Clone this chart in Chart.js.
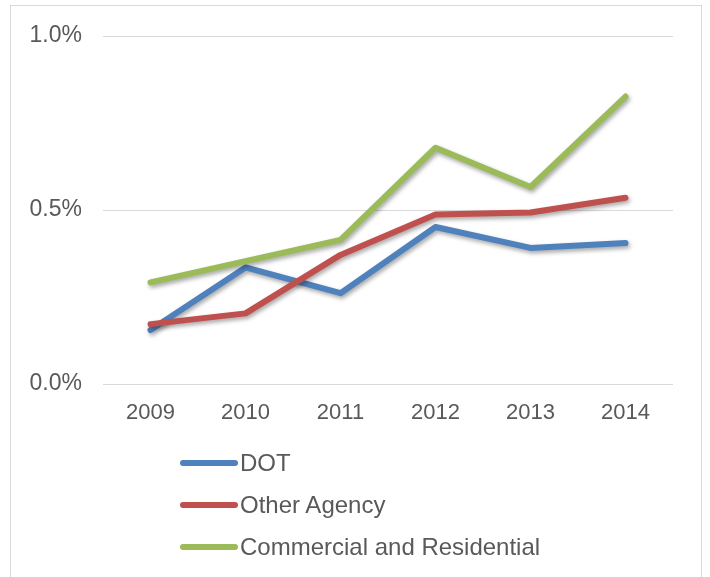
<!DOCTYPE html>
<html>
<head>
<meta charset="utf-8">
<script src="https://cdn.jsdelivr.net/npm/chart.js@4/dist/chart.umd.min.js"></script>
<style>
  html, body { margin: 0; padding: 0; width: 710px; height: 577px; overflow: hidden; background: #fff; }
  #frame { position: absolute; left: 10px; top: 5px; width: 692px; height: 640px; border: 1px solid #d9d9d9; box-sizing: border-box; }
  #wrap { position: absolute; left: 0; top: 0; width: 710px; height: 577px; }
  #legend { position: absolute; left: 180px; top: 442px; margin: 0; padding: 0; list-style: none;
            font-family: "Liberation Sans", Arial, sans-serif; font-size: 24px; color: #595959; }
  #legend li { display: flex; align-items: center; height: 42px; }
  #legend .swatch { display: inline-block; width: 58px; height: 6px; border-radius: 3px; margin-right: 2px; }
</style>
</head>
<body>
<div id="frame"></div>
<div id="wrap"><canvas id="c" width="710" height="577"></canvas></div>
<ul id="legend"></ul>
<script>
const categories = ["2009", "2010", "2011", "2012", "2013", "2014"];
const dotValues = [0.155, 0.335, 0.261, 0.451, 0.391, 0.405];
const otherAgencyValues = [0.172, 0.203, 0.371, 0.487, 0.493, 0.535];
const commercialResidentialValues = [0.292, 0.353, 0.414, 0.679, 0.566, 0.826];
const seriesNames = ["DOT", "Other Agency", "Commercial and Residential"];
const yTickValues = [0, 0.5, 1.0];

const colors = ["#4F81BD", "#C0504D", "#9BBB59"];
const textColor = "#595959";
const fontFamily = '"Liberation Sans", Arial, sans-serif';

const shadowPlugin = {
  id: 'lineShadow',
  beforeDatasetDraw(chart) {
    const ctx = chart.ctx;
    ctx.save();
    ctx.shadowColor = 'rgba(0,0,0,0.35)';
    ctx.shadowBlur = 4;
    ctx.shadowOffsetX = 1.5;
    ctx.shadowOffsetY = 2.5;
  },
  afterDatasetDraw(chart) {
    chart.ctx.restore();
  }
};

const htmlLegendPlugin = {
  id: 'htmlLegend',
  afterUpdate(chart) {
    const ul = document.getElementById('legend');
    ul.innerHTML = '';
    chart.data.datasets.forEach((ds) => {
      const li = document.createElement('li');
      const sw = document.createElement('span');
      sw.className = 'swatch';
      sw.style.background = ds.borderColor;
      const tx = document.createElement('span');
      tx.textContent = ds.label;
      li.appendChild(sw);
      li.appendChild(tx);
      ul.appendChild(li);
    });
  }
};

const seriesData = [dotValues, otherAgencyValues, commercialResidentialValues];

new Chart(document.getElementById('c'), {
  type: 'line',
  data: {
    labels: categories,
    datasets: seriesData.map((vals, i) => ({
      label: seriesNames[i],
      data: vals,
      borderColor: colors[i],
      backgroundColor: colors[i],
      borderWidth: 6,
      pointRadius: 0,
      pointHoverRadius: 0,
      tension: 0,
      fill: false,
      borderCapStyle: 'round',
      borderJoinStyle: 'round',
      order: 2 - i
    }))
  },
  options: {
    responsive: false,
    animation: false,
    devicePixelRatio: 1,
    layout: { padding: { left: 0, right: 37, top: 36, bottom: 150 } },
    plugins: {
      legend: { display: false },
      tooltip: { enabled: false }
    },
    scales: {
      x: {
        type: 'category',
        offset: true,
        grid: { display: false, drawTicks: false },
        border: { display: false },
        ticks: {
          color: textColor,
          font: { family: fontFamily, size: 22 },
          padding: 16,
          maxRotation: 0
        },
        afterFit(scale) { scale.height = 43; }
      },
      y: {
        min: 0,
        max: 1.0,
        grid: { color: '#d9d9d9', lineWidth: 1, drawTicks: false },
        border: { display: false },
        afterBuildTicks(scale) { scale.ticks = yTickValues.map(v => ({ value: v })); },
        ticks: {
          color: textColor,
          font: { family: fontFamily, size: 23 },
          padding: 21,
          callback: (v) => Number(v).toFixed(1) + '%'
        },
        afterFit(scale) { scale.width = 103; }
      }
    }
  },
  plugins: [shadowPlugin, htmlLegendPlugin]
});
</script>
</body>
</html>
